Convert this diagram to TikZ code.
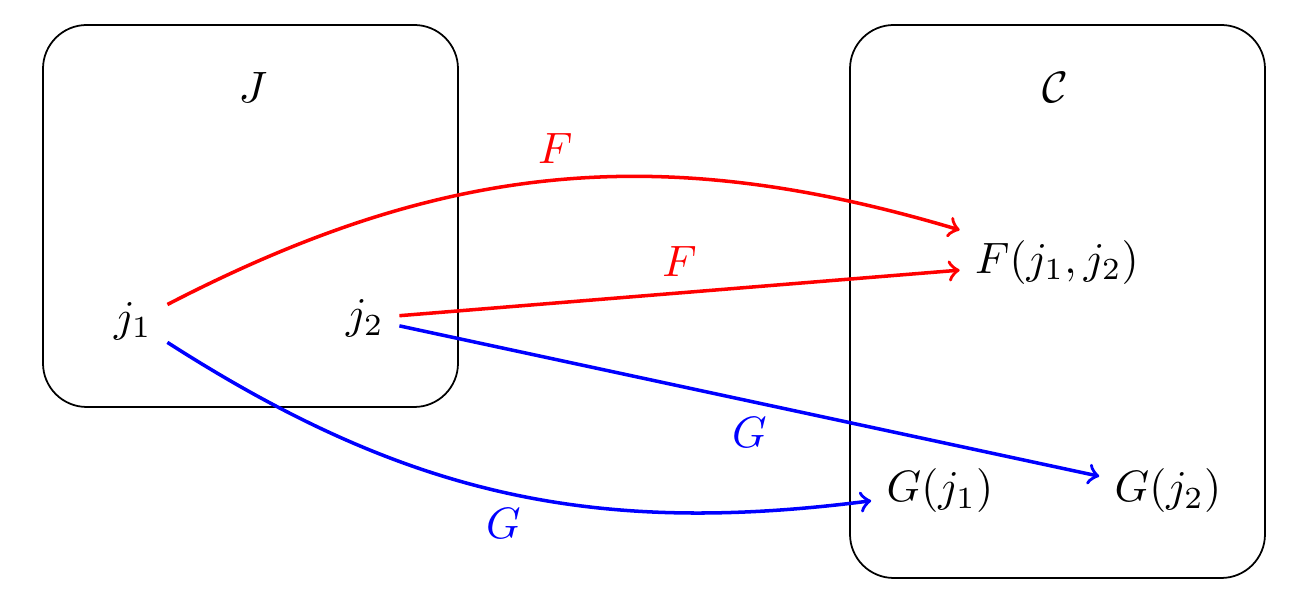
\documentclass[tikz,border=0pt]{standalone}
\usepackage{amsmath}
\usepackage{amssymb}
\usetikzlibrary{arrows}

\begin{document}
\begin{tikzpicture}[
	catbox/.style={draw,rounded corners=3.5mm},
	redarr/.style={->,thick,red},
	bluearr/.style={->,thick,blue},
	every node/.style={inner sep=3.33pt}]
	\useasboundingbox (0,0) rectangle (10.512,4.928);
	% the two categories
	\draw[catbox] (0.344,1.672) rectangle (3.664,4.728);
	\draw[catbox] (6.8,0.304) rectangle (10.12,4.728);
	\node (J) at (2.024,4.224) {$J$};
	\node (C) at (8.44,4.224) {$\mathcal{C}$};
	% objects
	\node (j1) at (1.064,2.36) {$j_1$};
	\node (j2) at (2.92,2.38) {$j_2$};
	\node (Fj) at (8.456,2.83) {$F(j_1,j_2)$};
	\node (Gj1) at (7.52,1.0) {$G(j_1)$};
	\node (Gj2) at (9.344,1.0) {$G(j_2)$};
	% functors
	\draw[redarr] (j1) to[bend left=22] node[midway,above] {$F$} (Fj);
	\draw[redarr] (j2) -- node[midway,above] {$F$} (Fj);
	\draw[bluearr] (j1) to[bend right=20] node[midway,below] {$G$} (Gj1);
	\draw[bluearr] (j2) -- node[midway,below] {$G$} (Gj2);
\end{tikzpicture}
\end{document}
